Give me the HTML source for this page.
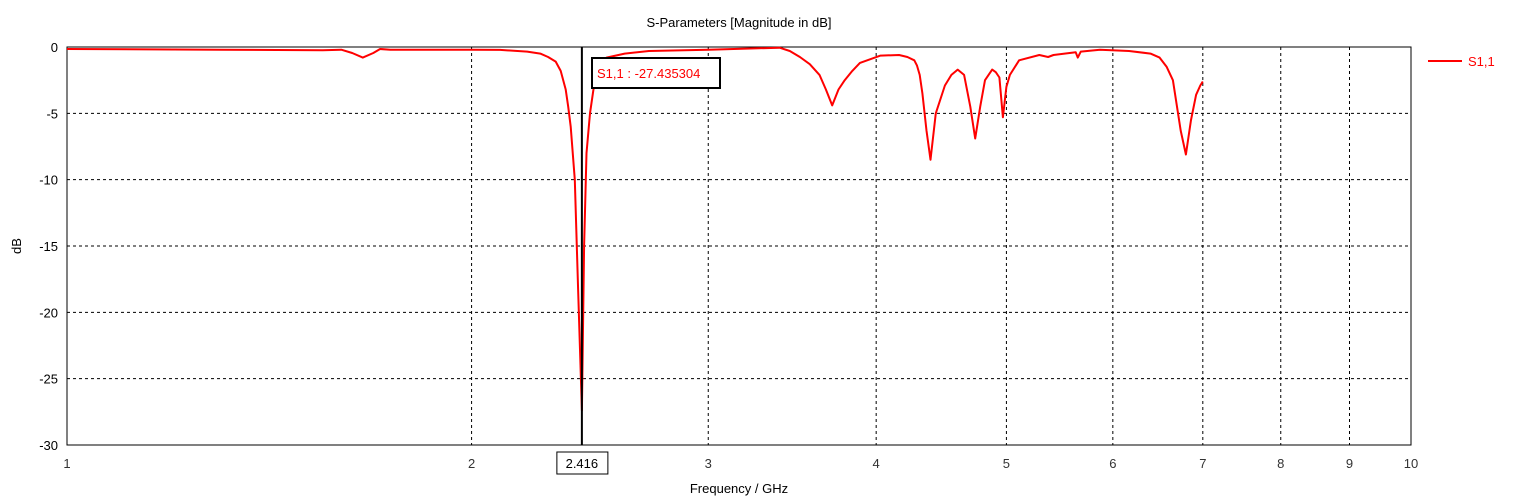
<!DOCTYPE html>
<html><head><meta charset="utf-8"><style>
body{margin:0;background:#fff;}
svg text{font-family:"Liberation Sans",sans-serif;font-size:13px;}
</style></head><body>
<svg id="c" width="1527" height="499" xmlns="http://www.w3.org/2000/svg">
<text x="739" y="27" text-anchor="middle" fill="#000">S-Parameters [Magnitude in dB]</text>
<text x="739" y="493" text-anchor="middle" fill="#000">Frequency / GHz</text>
<text x="21" y="246" text-anchor="middle" transform="rotate(-90 21 246)" fill="#000">dB</text>
<g id="grid"></g>
<g id="series"></g>
<line x1="1428" y1="61" x2="1462" y2="61" stroke="#f00" stroke-width="2"/>
<text x="1468" y="66" fill="#f00">S1,1</text>
</svg>
<script>
const xTicks=[1,2,3,4,5,6,7,8,9,10];
const yTicks=[0,-5,-10,-15,-20,-25,-30];
const freq=[1,1.3,1.55,1.6,1.63,1.66,1.69,1.71,1.74,1.8,2,2.1,2.2,2.25,2.28,2.31,2.33,2.35,2.36,2.37,2.387,2.40,2.416,2.425,2.435,2.45,2.47,2.5,2.52,2.6,2.71,3.0,3.39,3.45,3.51,3.57,3.63,3.67,3.71,3.75,3.79,3.84,3.89,4.03,4.16,4.22,4.27,4.29,4.31,4.33,4.36,4.39,4.43,4.5,4.55,4.6,4.65,4.70,4.74,4.78,4.82,4.88,4.91,4.94,4.97,5.0,5.03,5.11,5.29,5.37,5.42,5.63,5.65,5.68,5.87,6.17,6.4,6.5,6.58,6.65,6.74,6.8,6.86,6.92,6.97,7.0];
const s11=[-0.15,-0.2,-0.25,-0.2,-0.45,-0.8,-0.45,-0.15,-0.2,-0.2,-0.2,-0.22,-0.35,-0.5,-0.75,-1.1,-1.8,-3.2,-4.5,-6,-10,-18,-27.4,-15,-8,-5,-2.5,-1.1,-0.8,-0.5,-0.3,-0.2,-0.05,-0.3,-0.75,-1.3,-2.1,-3.2,-4.4,-3.2,-2.5,-1.8,-1.2,-0.65,-0.6,-0.75,-1.0,-1.4,-2.1,-3.5,-6.3,-8.5,-5,-2.9,-2.1,-1.7,-2.1,-4.5,-6.9,-4.5,-2.5,-1.7,-1.9,-2.3,-5.3,-3.0,-2.1,-1.0,-0.6,-0.75,-0.6,-0.4,-0.8,-0.35,-0.2,-0.3,-0.5,-0.8,-1.5,-2.5,-6.3,-8.1,-5.5,-3.6,-2.9,-2.6];
const markerF=2.416, markerV=-27.435304;
const X0=67,X1=1411,Y0=47,Y1=445;
const xs=f=>X0+Math.log10(f)*(X1-X0);
const ys=v=>Y0+(0-v)/30*(Y1-Y0);
const NS="http://www.w3.org/2000/svg";
const svg=document.getElementById('c'),grid=document.getElementById('grid'),ser=document.getElementById('series');
function mk(t,a,p){const e=document.createElementNS(NS,t);for(const k in a)e.setAttribute(k,a[k]);(p||svg).appendChild(e);return e;}
xTicks.forEach(f=>{const x=xs(f);
 if(f>1&&f<10){const l=mk('line',{x1:x,y1:Y0,x2:x,y2:Y1,stroke:'#000','stroke-dasharray':'3,3','stroke-width':1},grid);
 
 }
 const t=mk('text',{x:x,y:468,'text-anchor':'middle',fill:'#333'},grid);t.textContent=f;
 
 });
yTicks.forEach(v=>{const y=ys(v);
 if(v<0&&v>-30){const l=mk('line',{x1:X0,y1:y,x2:X1,y2:y,stroke:'#000','stroke-dasharray':'3,3','stroke-width':1},grid);
 
 }
 const t=mk('text',{x:58,y:y+5,'text-anchor':'end',fill:'#000'},grid);t.textContent=v;
 
 });
const fr=mk('rect',{x:X0,y:Y0,width:X1-X0,height:Y1-Y0,fill:'none',stroke:'#000','stroke-width':1},grid);


const pts=freq.map((f,i)=>xs(f).toFixed(1)+','+ys(s11[i]).toFixed(1)).join(' ');
const pl=mk('polyline',{points:pts,fill:'none',stroke:'#f00','stroke-width':2,'stroke-linejoin':'round'},ser);


const mx=xs(markerF);
const ml=mk('line',{x1:mx,y1:Y0,x2:mx,y2:Y1,stroke:'#000','stroke-width':2},ser);


const mb=mk('rect',{x:mx-25,y:452,width:51,height:22,fill:'#fff',stroke:'#000','stroke-width':1},ser);


const mt=mk('text',{x:mx,y:468,'text-anchor':'middle',fill:'#000'},ser);mt.textContent=markerF.toFixed(3);


const ab=mk('rect',{x:592,y:58,width:128,height:30,fill:'#fff',stroke:'#000','stroke-width':2},ser);


const at=mk('text',{x:597,y:78,fill:'#f00'},ser);at.textContent='S1,1 : '+markerV.toFixed(6);


</script>
</body></html>
